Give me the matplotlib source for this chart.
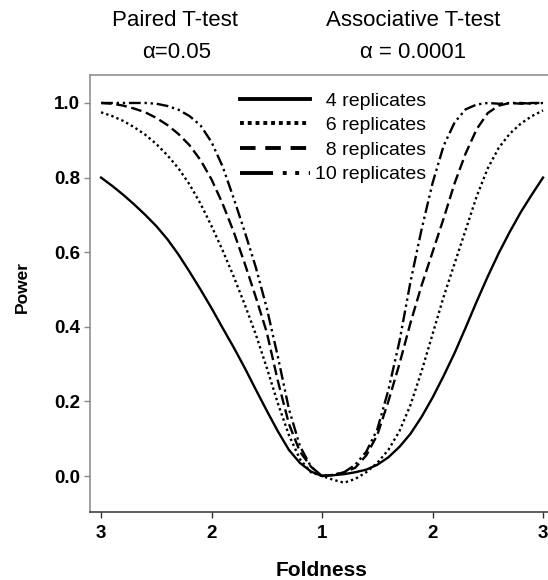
import numpy as np
import matplotlib as mpl
mpl.use("Agg")
from matplotlib import pyplot as plt
from matplotlib.lines import Line2D

mpl.rcParams["font.family"] = ["Liberation Sans", "DejaVu Sans"]

# foldness grid (same for both sides), 1.0 .. 3.0
fold = [1.0, 1.1, 1.2, 1.3, 1.4, 1.5, 1.6, 1.7, 1.8, 1.9, 2.0,
        2.1, 2.2, 2.3, 2.4, 2.5, 2.6, 2.7, 2.8, 2.9, 3.0]

# left side: paired t-test, alpha = 0.05
paired_4 = [0.0, 0.012, 0.035, 0.07, 0.12, 0.175, 0.232, 0.29, 0.345, 0.397, 0.45,
            0.50, 0.548, 0.594, 0.635, 0.67, 0.70, 0.728, 0.754, 0.778, 0.80]
paired_6 = [0.0, 0.01, 0.045, 0.11, 0.195, 0.29, 0.38, 0.46, 0.535, 0.605, 0.67,
            0.73, 0.782, 0.825, 0.86, 0.89, 0.915, 0.935, 0.952, 0.965, 0.975]
paired_8 = [0.0, 0.025, 0.065, 0.14, 0.255, 0.385, 0.48, 0.57, 0.655, 0.73, 0.795,
            0.847, 0.887, 0.917, 0.941, 0.96, 0.975, 0.985, 0.993, 0.998, 1.0]
paired_10 = [0.0, 0.025, 0.08, 0.18, 0.32, 0.45, 0.56, 0.655, 0.745, 0.83, 0.895,
             0.94, 0.965, 0.982, 0.992, 0.998, 1.0, 1.0, 1.0, 1.0, 1.0]

# right side: associative t-test, alpha = 0.0001
assoc_4 = [0.0, 0.002, 0.005, 0.01, 0.017, 0.03, 0.05, 0.078, 0.113, 0.158, 0.21,
           0.268, 0.33, 0.398, 0.468, 0.535, 0.598, 0.655, 0.708, 0.755, 0.80]
assoc_6 = [0.0, -0.01, -0.018, -0.008, 0.01, 0.035, 0.07, 0.12, 0.19, 0.28, 0.38,
           0.48, 0.57, 0.66, 0.75, 0.825, 0.88, 0.918, 0.945, 0.965, 0.98]
assoc_8 = [0.0, 0.003, 0.01, 0.022, 0.055, 0.11, 0.2, 0.3, 0.41, 0.51, 0.60,
           0.69, 0.785, 0.865, 0.93, 0.973, 0.993, 1.0, 0.998, 1.0, 1.0]
assoc_10 = [0.0, 0.003, 0.01, 0.03, 0.065, 0.125, 0.23, 0.36, 0.52, 0.66, 0.785,
            0.885, 0.948, 0.983, 0.996, 1.0, 0.998, 1.0, 1.0, 0.998, 1.0]

labels = ["  4 replicates", "  6 replicates", "  8 replicates", "10 replicates"]
xtick_labels = ["3", "2", "1", "2", "3"]
ytick_values = [0.0, 0.2, 0.4, 0.6, 0.8, 1.0]

curve_styles = ["-", (0, (1, 1.3)), (0, (4.5, 2)), (0, (5, 1.6, 1, 1.6, 1, 1.6))]
legend_styles = ["-", (0, (1, 1)), (0, (4, 2.5)), (0, (8.5, 2.5, 1, 2.2, 1, 2.5))]


def saveplot(fig, filename):
    fig.savefig(filename, dpi=100)


def power_plot():
    fig = plt.figure(figsize=(5.48, 5.80), dpi=100)
    ax = fig.add_axes([90 / 548, 1 - 512 / 580, 1 - 90 / 548, (512 - 75) / 580])

    f = np.array(fold)
    x_left = -(f - 1.0)
    x_right = f - 1.0
    left = [paired_4, paired_6, paired_8, paired_10]
    right = [assoc_4, assoc_6, assoc_8, assoc_10]
    for yl, yr, ls in zip(left, right, curve_styles):
        x = np.concatenate([x_left[::-1], x_right[1:]])
        y = np.concatenate([np.array(yl)[::-1], np.array(yr)[1:]])
        ax.plot(x, y, color="black", lw=1.7, linestyle=ls, dash_capstyle="butt")

    ax.set_xlim(-2.10, 2.045)
    ax.set_ylim(-0.0965, 1.075)
    ax.set_xticks([-2, -1, 0, 1, 2])
    ax.set_xticklabels(xtick_labels, fontsize=13.5, fontweight="bold")
    ax.set_yticks(ytick_values)
    ax.set_yticklabels(["%.1f" % v for v in ytick_values], fontsize=13.5, fontweight="bold")
    ax.tick_params(axis="x", direction="out", length=4, width=1, pad=5, color="#333333")
    ax.tick_params(axis="y", direction="out", length=4, width=1, pad=3, color="#888888")

    ax.spines["right"].set_visible(False)
    ax.spines["left"].set_color("#888888")
    ax.spines["top"].set_color("#888888")
    ax.spines["bottom"].set_color("#333333")
    for s in ax.spines.values():
        s.set_linewidth(1.1)

    handles = [Line2D([], [], color="black", lw=2.8, linestyle=ls, dash_capstyle="butt")
               for ls in legend_styles]
    ax.legend(handles, labels, loc="upper left", frameon=False, fontsize=14,
              handlelength=3.6, handletextpad=0.25, labelspacing=0.36,
              borderaxespad=0, borderpad=0,
              bbox_to_anchor=(240 / 548, 1 - 92 / 580), bbox_transform=fig.transFigure)

    fig.text(175 / 548, 1 - 21 / 580, "Paired T-test", ha="center", va="center", fontsize=16)
    fig.text(177 / 548, 1 - 52 / 580, "\u03b1=0.05", ha="center", va="center", fontsize=16)
    fig.text(413 / 548, 1 - 21 / 580, "Associative T-test", ha="center", va="center", fontsize=16)
    fig.text(413 / 548, 1 - 52 / 580, "\u03b1 = 0.0001", ha="center", va="center", fontsize=16)

    fig.text(22 / 548, 1 - 287 / 580, "Power", rotation=90, ha="center", va="center",
             fontsize=12.5, fontweight="bold")
    fig.text(322 / 548, 1 - 571 / 580, "Foldness", ha="center", va="center",
             fontsize=15, fontweight="bold")

    saveplot(fig, "out.png")


if __name__ == '__main__':
    power_plot()
